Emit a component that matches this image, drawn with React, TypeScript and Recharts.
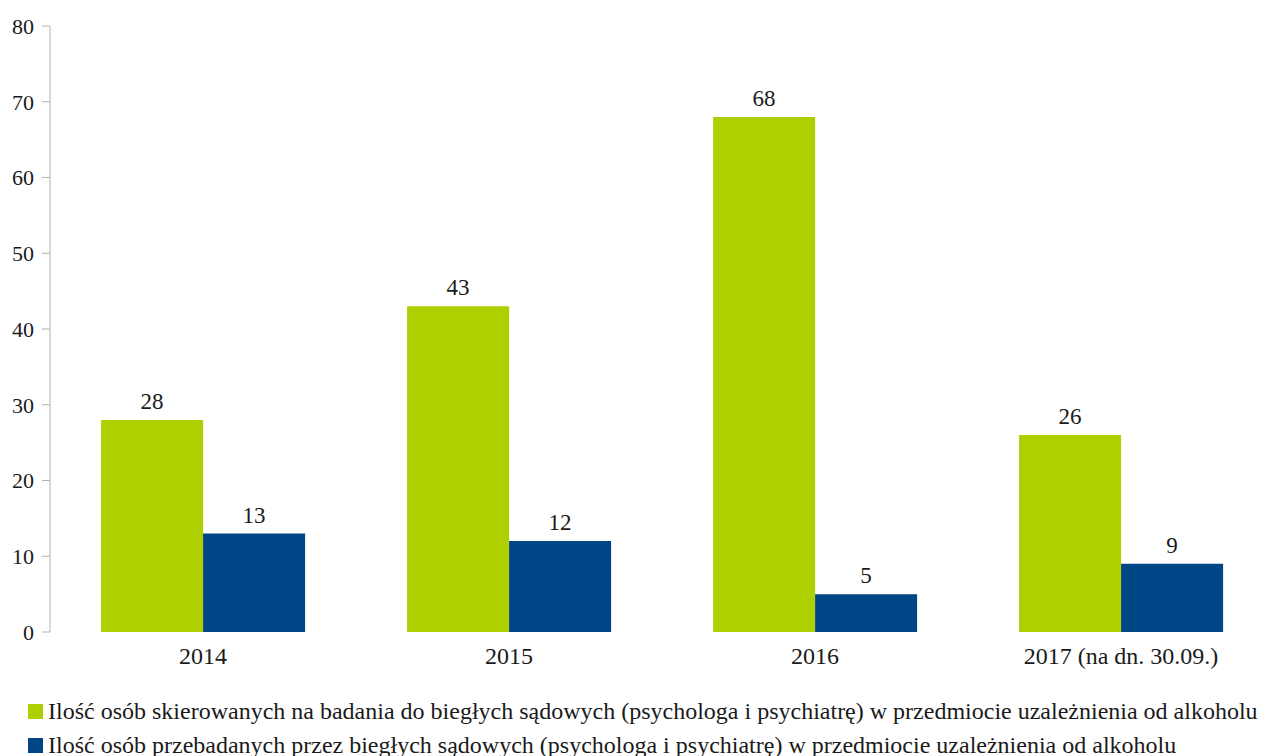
import React from 'react';
import { BarChart, Bar, XAxis, YAxis, LabelList } from 'recharts';

const YEARS = ['2014', '2015', '2016', '2017 (na dn. 30.09.)'];
const SKIEROWANE = [28, 43, 68, 26];
const PRZEBADANE = [13, 12, 5, 9];
const Y_TICKS = [0, 10, 20, 30, 40, 50, 60, 70, 80];
const BOUNDARY_TICKS = [0, 1, 2, 3, 4];

const SERIES_NAMES = [
  'Ilość osób skierowanych na badania do biegłych sądowych (psychologa i psychiatrę) w przedmiocie uzależnienia od alkoholu',
  'Ilość osób przebadanych przez biegłych sądowych (psychologa i psychiatrę) w przedmiocie uzależnienia od alkoholu',
];

const GREEN = '#aecf00';
const BLUE = '#004586';
const AXIS = '#b3b3b3';
const TEXT = '#1a1a1a';
const FONT = '"Liberation Serif", "Times New Roman", serif';

const data = YEARS.map((year, i) => ({
  year,
  skierowane: SKIEROWANE[i],
  przebadane: PRZEBADANE[i],
}));

export default function App() {
  return (
    <div
      style={{
        position: 'absolute',
        left: 0,
        top: 0,
        width: 1269,
        height: 756,
        overflow: 'hidden',
        background: '#fff',
        fontFamily: FONT,
      }}
    >
      <BarChart
        width={1280}
        height={680}
        data={data}
        margin={{ top: 26, right: 6, left: 0, bottom: 0 }}
        barCategoryGap="16.7%"
        barGap={0}
        style={{ fontFamily: FONT }}
      >
        {/* tick marks between categories */}
        <XAxis
          xAxisId="grid"
          type="number"
          domain={[0, 4]}
          ticks={BOUNDARY_TICKS}
          tick={false}
          tickSize={10}
          height={0}
          axisLine={{ stroke: AXIS }}
          tickLine={{ stroke: AXIS }}
        />
        <XAxis
          xAxisId="cat"
          dataKey="year"
          axisLine={false}
          tickLine={false}
          tickSize={0}
          tickMargin={15}
          height={48}
          tick={{ fill: TEXT, fontSize: 24, fontFamily: FONT }}
        />
        <YAxis
          width={50}
          domain={[0, 80]}
          ticks={Y_TICKS}
          interval={0}
          tickSize={8}
          tickMargin={8}
          axisLine={{ stroke: AXIS }}
          tickLine={{ stroke: AXIS }}
          tick={{ fill: TEXT, fontSize: 22, fontFamily: FONT }}
        />
        <Bar dataKey="skierowane" xAxisId="cat" fill={GREEN} isAnimationActive={false}>
          <LabelList dataKey="skierowane" position="top" offset={11} fill={TEXT} fontSize={23} fontFamily={FONT} />
        </Bar>
        <Bar dataKey="przebadane" xAxisId="cat" fill={BLUE} isAnimationActive={false}>
          <LabelList dataKey="przebadane" position="top" offset={11} fill={TEXT} fontSize={23} fontFamily={FONT} />
        </Bar>
      </BarChart>

      {/* legenda */}
      <div style={{ position: 'absolute', left: 28, top: 694 }}>
        {SERIES_NAMES.map((name, i) => (
          <div
            key={name}
            style={{ display: 'flex', alignItems: 'center', height: 34, fontSize: 24, color: TEXT, whiteSpace: 'nowrap' }}
          >
            <span style={{ width: 15, height: 15, background: i === 0 ? GREEN : BLUE, marginRight: 5, flex: 'none' }} />
            {name}
          </div>
        ))}
      </div>
    </div>
  );
}
